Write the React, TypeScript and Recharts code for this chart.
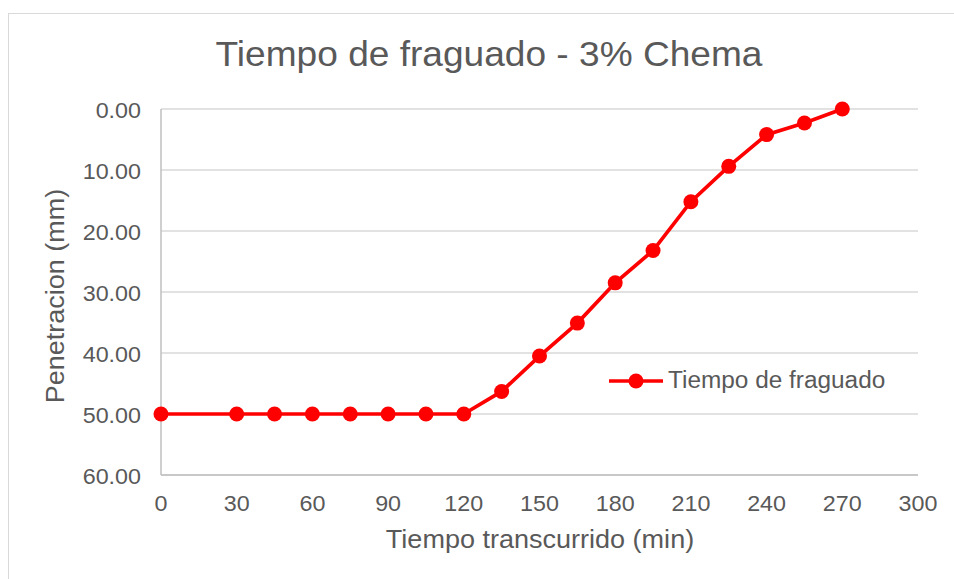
import React from "react"
import { LineChart, Line, XAxis, YAxis, CartesianGrid, Legend } from "recharts"

const minutes = [0, 30, 45, 60, 75, 90, 105, 120, 135, 150, 165, 180, 195, 210, 225, 240, 255, 270]
const penetration = [50, 50, 50, 50, 50, 50, 50, 50, 46.3, 40.5, 35.1, 28.5, 23.2, 15.2, 9.4, 4.2, 2.3, 0]
const xTicks = [0, 30, 60, 90, 120, 150, 180, 210, 240, 270, 300]
const yTicks = [0, 10, 20, 30, 40, 50, 60]
const seriesName = "Tiempo de fraguado"
const title = "Tiempo de fraguado - 3% Chema"
const xTitle = "Tiempo transcurrido (min)"
const yTitle = "Penetracion (mm)"

const data = minutes.map((m, i) => ({ t: m, p: penetration[i] }))

const FONT = "'Liberation Sans', Arial, sans-serif"
const TEXT = "#595959"
const RED = "#ff0000"
// Excel draws its Arial a little wider than the browser does
const WIDEN = 1.06

function XTick({ x, y, payload }: any) {
  return (
    <text
      transform={`translate(${x},${y}) scale(${WIDEN},1)`}
      textAnchor="middle"
      dy="0.36em"
      fill={TEXT}
      fontSize={22}
      fontFamily={FONT}
    >
      {payload.value}
    </text>
  )
}

function YTick({ x, y, payload }: any) {
  return (
    <text
      transform={`translate(${x},${y}) scale(${WIDEN},1)`}
      textAnchor="end"
      dy="0.42em"
      fill={TEXT}
      fontSize={22}
      fontFamily={FONT}
    >
      {Number(payload.value).toFixed(2)}
    </text>
  )
}

function LegendBox() {
  return (
    <div style={{ display: "flex", alignItems: "center", fontFamily: FONT, fontSize: 23, color: TEXT, whiteSpace: "nowrap" }}>
      <svg width={54} height={20} style={{ display: "block" }}>
        <line x1={0} y1={10} x2={54} y2={10} stroke={RED} strokeWidth={3.7} />
        <circle cx={27} cy={10} r={7.5} fill={RED} />
      </svg>
      <span style={{ marginLeft: 5, display: "inline-block", transform: `scaleX(${WIDEN})`, transformOrigin: "left center" }}>
        {seriesName}
      </span>
    </div>
  )
}

export default function App() {
  return (
    <div style={{ position: "absolute", left: 0, top: 0, width: 954, height: 579, background: "#fff", overflow: "hidden" }}>
      <div
        style={{
          position: "absolute",
          left: 8,
          top: 13,
          width: 960,
          height: 580,
          borderLeft: "1.5px solid #d9d9d9",
          borderTop: "1.5px solid #d9d9d9",
        }}
      />
      <div style={{ position: "absolute", left: 0, top: 0 }}>
        <LineChart width={954} height={579} data={data} margin={{ top: 109, right: 36, bottom: 0, left: 40 }}>
          <CartesianGrid horizontal vertical={false} stroke="#d9d9d9" strokeWidth={1.5} />
          <XAxis
            dataKey="t"
            type="number"
            domain={[0, 300]}
            ticks={xTicks}
            height={104}
            tickLine={false}
            tickSize={0}
            tickMargin={28}
            axisLine={{ stroke: "#bfbfbf", strokeWidth: 1.5 }}
            tick={<XTick />}
          />
          <YAxis
            type="number"
            reversed
            domain={[0, 60]}
            ticks={yTicks}
            width={121}
            tickLine={false}
            tickSize={0}
            tickMargin={20}
            axisLine={{ stroke: "#bfbfbf", strokeWidth: 1.5 }}
            tick={<YTick />}
          />
          <Legend
            layout="horizontal"
            verticalAlign="middle"
            align="center"
            content={() => <LegendBox />}
            wrapperStyle={{ position: "absolute", left: 609, top: 367, width: "auto" }}
          />
          <Line
            type="linear"
            dataKey="p"
            name={seriesName}
            stroke={RED}
            strokeWidth={3.7}
            dot={{ r: 7.5, fill: RED, stroke: RED, strokeWidth: 0 }}
            activeDot={false}
            isAnimationActive={false}
          />
        </LineChart>
      </div>
      <svg width={954} height={579} style={{ position: "absolute", left: 0, top: 0, pointerEvents: "none" }}>
        <text transform={`translate(489,66) scale(${WIDEN},1)`} textAnchor="middle" fill={TEXT} fontSize={35} fontFamily={FONT}>
          {title}
        </text>
        <text transform={`translate(540,548) scale(${WIDEN},1)`} textAnchor="middle" fill={TEXT} fontSize={25.5} fontFamily={FONT}>
          {xTitle}
        </text>
        <text transform={`translate(64,296) rotate(-90) scale(${WIDEN},1)`} textAnchor="middle" fill={TEXT} fontSize={25.5} fontFamily={FONT}>
          {yTitle}
        </text>
      </svg>
    </div>
  )
}
